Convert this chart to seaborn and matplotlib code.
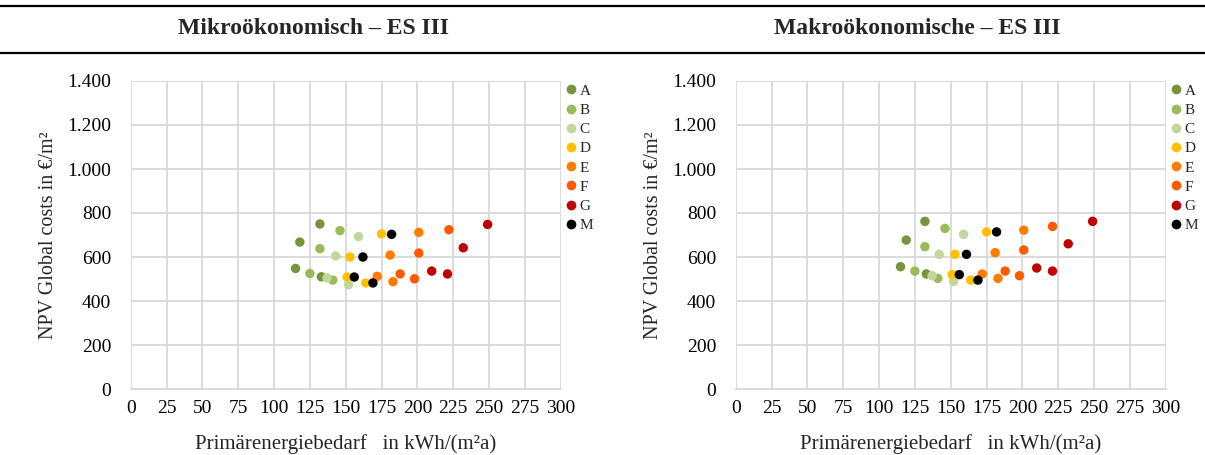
import numpy as np
import pandas as pd
import matplotlib
matplotlib.use("Agg")
import matplotlib.pyplot as plt
from matplotlib.lines import Line2D
from matplotlib.ticker import FuncFormatter
import seaborn as sns

# ==============================
# DATA
# ==============================

VARIANTS = ["A", "B", "C", "D", "E", "F", "G", "M"]
COLORS = ["#77933c", "#9bbb59", "#c3d69b", "#ffc000",
          "#ff7c00", "#ff5a00", "#c00000", "#000000"]

# Mikroökonomisch – ES III  (x = Primärenergiebedarf, y = NPV)
micro_x = {
    "A": [132, 118, 115, 133],
    "B": [146, 132, 125, 141],
    "C": [159, 143, 137, 152],
    "D": [175, 153, 151, 164],
    "E": [201, 181, 172, 183],
    "F": [222, 201, 188, 198],
    "G": [249, 232, 210, 221],
    "M": [182, 162, 156, 169],
}
micro_y = {
    "A": [750, 668, 548, 510],
    "B": [720, 638, 525, 495],
    "C": [693, 605, 505, 474],
    "D": [705, 600, 509, 482],
    "E": [712, 609, 512, 488],
    "F": [724, 618, 523, 501],
    "G": [748, 642, 536, 523],
    "M": [703, 600, 509, 482],
}

# Makroökonomische – ES III
macro_x = {
    "A": [132, 119, 115, 133],
    "B": [146, 132, 125, 141],
    "C": [159, 142, 137, 152],
    "D": [175, 153, 151, 164],
    "E": [201, 181, 172, 183],
    "F": [221, 201, 188, 198],
    "G": [249, 232, 210, 221],
    "M": [182, 161, 156, 169],
}
macro_y = {
    "A": [762, 677, 556, 523],
    "B": [730, 647, 536, 503],
    "C": [703, 612, 515, 489],
    "D": [714, 612, 520, 495],
    "E": [722, 620, 523, 503],
    "F": [739, 632, 536, 515],
    "G": [762, 660, 550, 536],
    "M": [714, 612, 520, 495],
}

TITLES = ["Mikroökonomisch – ES III", "Makroökonomische – ES III"]
X_TICKS = list(range(0, 301, 25))
Y_TICKS = list(range(0, 1401, 200))


def to_frame(xs, ys):
    rows = []
    for v in VARIANTS:
        for x, y in zip(xs[v], ys[v]):
            rows.append({"variant": v, "pe": x, "npv": y})
    return pd.DataFrame(rows)


panels = [to_frame(micro_x, micro_y), to_frame(macro_x, macro_y)]

# ==============================
# PLOT
# ==============================

sns.set_style("white")
plt.rcParams["font.family"] = ["Liberation Serif", "DejaVu Serif"]

fig = plt.figure(figsize=(12.05, 4.55), dpi=100)

ax_lefts = [130.7 / 1205, 735.7 / 1205]
ax_w = 430 / 1205
ax_b = (455 - 389) / 455
ax_h = 308 / 455
title_x = [313 / 1205, 917 / 1205]

palette = dict(zip(VARIANTS, COLORS))
thousands = FuncFormatter(lambda v, p: f"{int(v):,}".replace(",", "."))

for i, df in enumerate(panels):
    ax = fig.add_axes([ax_lefts[i], ax_b, ax_w, ax_h])
    sns.scatterplot(data=df, x="pe", y="npv", hue="variant",
                    hue_order=VARIANTS, palette=palette, s=46,
                    edgecolor="none", ax=ax, legend=False, zorder=3)
    ax.set_xlim(0, 300)
    ax.set_ylim(0, 1400)
    ax.set_xticks(X_TICKS)
    ax.set_yticks(Y_TICKS)
    ax.yaxis.set_major_formatter(thousands)
    ax.grid(True, color="#d9d9d9", linewidth=1.3)
    ax.set_axisbelow(True)
    for s in ["top", "right", "left"]:
        ax.spines[s].set_visible(False)
    ax.spines["bottom"].set_color("#d9d9d9")
    ax.spines["bottom"].set_linewidth(1.3)
    ax.tick_params(axis="both", length=0, labelsize=14, colors="#000000")
    ax.tick_params(axis="y", pad=14)
    ax.tick_params(axis="x", pad=8)
    ax.set_xlabel("Primärenergiebedarf   in kWh/(m²a)", fontsize=15, labelpad=12)
    ax.set_ylabel("NPV Global costs in €/m²", fontsize=14.5, labelpad=7)

    handles = [Line2D([0], [0], marker="o", linestyle="", markersize=7,
                      markerfacecolor=c, markeredgecolor="none")
               for c in COLORS]
    ax.legend(handles, VARIANTS, loc="upper left", bbox_to_anchor=(1.0, 1.0),
              frameon=False, fontsize=11, handletextpad=0.05,
              handlelength=1.0, labelspacing=0.36, borderaxespad=0.0,
              borderpad=0.2)

    fig.text(title_x[i], 1 - 28 / 455, TITLES[i], ha="center", va="center",
             fontsize=17, fontweight="bold")

for yy in [1 - 6 / 455, 1 - 53 / 455]:
    fig.add_artist(Line2D([0, 1], [yy, yy], transform=fig.transFigure,
                          color="black", linewidth=1.6))

plt.savefig("out.png", dpi=100)
